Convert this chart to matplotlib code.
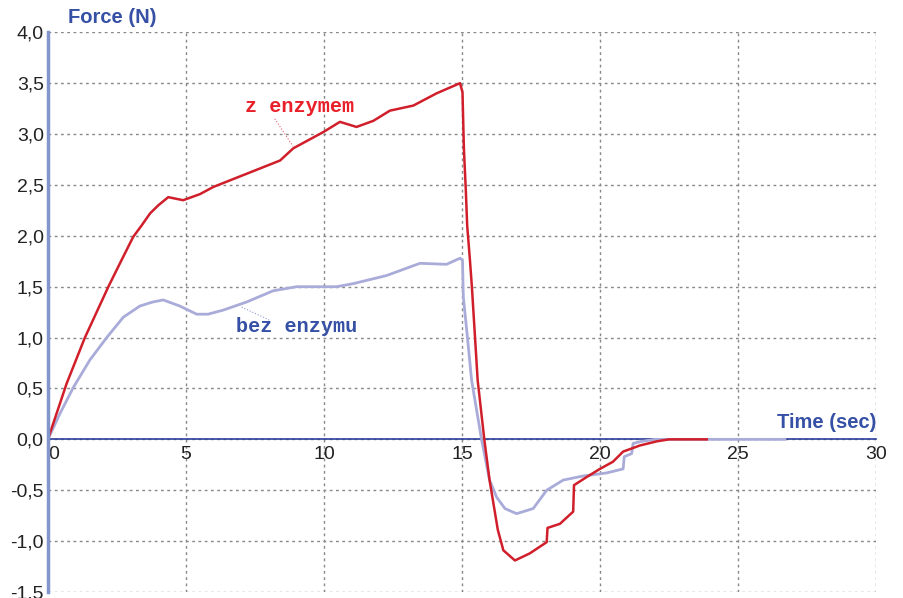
import matplotlib
matplotlib.use('Agg')
import matplotlib.pyplot as plt

plt.rcParams['font.family'] = ['Liberation Sans', 'DejaVu Sans']

# z enzymem (red)
t_red = [0, 0.68, 1.34, 2.19, 2.61, 3.09, 3.39, 3.70, 4.0, 4.36, 4.90, 5.51, 5.99, 7.2, 8.41,
         8.89, 9.98, 10.58, 11.18, 11.79, 12.39, 13.24, 14.08, 14.93, 15.02, 15.07, 15.14,
         15.19, 15.29, 15.36, 15.57, 15.81, 16.0, 16.3, 16.5, 16.92, 17.46, 18.07, 18.1,
         18.55, 19.03, 19.06, 19.52, 20.0, 20.47, 20.84, 21.45, 22.05, 22.5, 23.87]
f_red = [0, 0.55, 1.00, 1.50, 1.73, 1.99, 2.10, 2.22, 2.30, 2.38, 2.35, 2.41, 2.48, 2.61, 2.74,
         2.86, 3.02, 3.12, 3.07, 3.13, 3.23, 3.28, 3.40, 3.50, 3.41, 2.86, 2.45,
         2.10, 1.76, 1.50, 0.58, 0.0, -0.40, -0.89, -1.09, -1.19, -1.12, -1.01, -0.87,
         -0.83, -0.71, -0.45, -0.37, -0.29, -0.22, -0.12, -0.06, -0.02, 0.0, 0.0]

# bez enzymu (light blue)
t_blue = [0, 0.43, 0.92, 1.52, 2.13, 2.73, 3.33, 3.8, 4.18, 4.78, 5.39, 5.8, 6.35, 7.2, 8.16,
          9.01, 10.46, 11.06, 12.27, 13.48, 14.44, 14.93, 15.02, 15.05, 15.2, 15.35, 15.71,
          16.0, 16.26, 16.56, 16.98, 17.58, 18.07, 18.67, 19.39, 20.24, 20.84, 20.88, 21.15,
          21.2, 21.5, 22.0, 23.0, 26.7]
f_blue = [0, 0.25, 0.51, 0.78, 1.00, 1.20, 1.31, 1.35, 1.37, 1.31, 1.23, 1.23, 1.27, 1.35, 1.46,
          1.50, 1.50, 1.53, 1.61, 1.73, 1.72, 1.78, 1.76, 1.40, 1.00, 0.58, 0.0,
          -0.40, -0.57, -0.68, -0.73, -0.68, -0.50, -0.40, -0.36, -0.33, -0.29, -0.17, -0.14,
          -0.04, -0.02, 0.0, 0.0, 0.0]

x_ticks = [0, 5, 10, 15, 20, 25, 30]
y_ticks = [4.0, 3.5, 3.0, 2.5, 2.0, 1.5, 1.0, 0.5, 0.0, -0.5, -1.0, -1.5]
y_labels = ['4,0', '3,5', '3,0', '2,5', '2,0', '1,5', '1,0', '0,5', '0,0', '-0,5', '-1,0', '-1,5']

label_blue = '#3550a5'

fig = plt.figure(figsize=(9.04, 5.98), dpi=100)
ax = fig.add_axes([0.053, 0.010, 0.916, 0.936])

ax.plot(t_blue, f_blue, color='#a9abd9', lw=2.0, zorder=3)
ax.plot(t_red, f_red, color='#d01f2b', lw=1.8, zorder=4)

ax.set_xlim(0, 30)
ax.set_ylim(-1.5, 4.0)
ax.set_xticks(x_ticks)
ax.set_yticks(y_ticks)
ax.set_yticklabels(y_labels)
ax.grid(True, color='#888888', ls=(0, (2, 2.5)), lw=1.0)
ax.set_axisbelow(True)

for s in ['top', 'right']:
    ax.spines[s].set_visible(False)
ax.spines['bottom'].set_position(('data', 0))
ax.spines['bottom'].set_color('#2b3e9a')
ax.spines['bottom'].set_linewidth(1.2)
ax.spines['left'].set_color('#8396cc')
ax.spines['left'].set_linewidth(2.5)
ax.spines['left'].set_zorder(5)

ax.tick_params(length=0, labelsize=14, colors='#222222')
ax.tick_params(axis='x', pad=5)
ax.tick_params(axis='y', pad=3)
ax.get_xticklabels()[0].set_horizontalalignment('left')

ax.text(0.024, 1.026, 'Force (N)', transform=ax.transAxes, color=label_blue,
        fontsize=14.5, fontweight='bold', ha='left', va='center')
ax.text(30, 0.17, 'Time (sec)', color=label_blue, fontsize=14.5, fontweight='bold',
        ha='right', va='center')

mono = ['Liberation Mono', 'DejaVu Sans Mono']
ax.text(9.13, 3.27, 'z enzymem', color='#e8202a', fontsize=14.5, fontweight='bold',
        family=mono, ha='center', va='center')
ax.plot([8.22, 8.88], [3.15, 2.88], color='#e06070', lw=0.8, ls=':')
ax.text(9.02, 1.11, 'bez enzymu', color=label_blue, fontsize=14.5, fontweight='bold',
        family=mono, ha='center', va='center')
ax.plot([7.02, 8.04], [1.30, 1.17], color='#8f9ad0', lw=0.8, ls=':')

fig.savefig('out.png', dpi=100)
